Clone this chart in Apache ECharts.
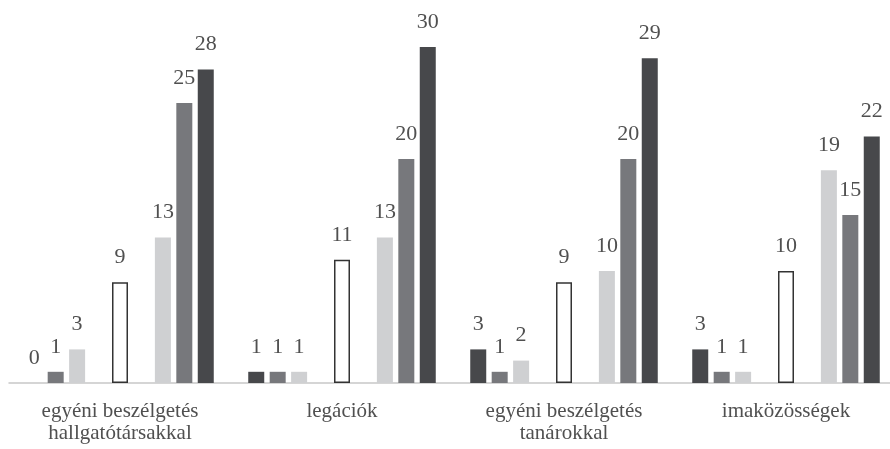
<!DOCTYPE html>
<html>
<head>
<meta charset="utf-8">
<script src="https://cdn.jsdelivr.net/npm/echarts@6/dist/echarts.min.js"></script>
<style>
html,body{margin:0;padding:0;background:#fff;}
#chart{width:890px;height:449px;}
</style>
</head>
<body>
<div id="chart"></div>
<script>
const categories = ['egyéni beszélgetés\nhallgatótársakkal', 'legációk', 'egyéni beszélgetés\ntanárokkal', 'imaközösségek'];

// left block of three bars
const leftDark  = [0, 1, 3, 3];
const leftMid   = [1, 1, 1, 1];
const leftLight = [3, 1, 2, 1];
// outlined middle bar
const middleOpen = [9, 11, 9, 10];
// right block of three bars
const rightLight = [13, 13, 10, 19];
const rightMid   = [25, 20, 20, 15];
const rightDark  = [28, 30, 29, 22];
// empty slots that separate the blocks
const spacer = ['-', '-', '-', '-'];

const DARK = '#47484b', MID = '#77787c', LIGHT = '#cfd0d2';
const FONT = 'Liberation Serif';

function bars(name, data, color, extra) {
  return Object.assign({
    name: name,
    type: 'bar',
    data: data,
    barWidth: 16,
    barGap: '34%',
    itemStyle: { color: color },
    label: {
      show: true,
      position: 'top',
      distance: 14,
      fontFamily: FONT,
      fontSize: 22,
      color: '#505050'
    }
  }, extra || {});
}

const chart = echarts.init(document.getElementById('chart'), null, { renderer: 'canvas' });
chart.setOption({
  animation: false,
  backgroundColor: '#fff',
  textStyle: { fontFamily: FONT },
  grid: { left: 9, top: 47, width: 888, bottom: 66, containLabel: false, outerBoundsMode: 'none' },
  xAxis: {
    type: 'category',
    data: categories,
    axisLine: { lineStyle: { color: '#c8c8c8', width: 1.5 } },
    axisTick: { show: false },
    axisLabel: {
      interval: 0,
      margin: 17,
      fontFamily: FONT,
      fontSize: 21,
      lineHeight: 22,
      color: '#505050'
    }
  },
  yAxis: {
    type: 'value',
    min: 0,
    max: 30,
    show: false,
    splitLine: { show: false }
  },
  series: [
    bars('bal sötét', leftDark, DARK),
    bars('bal közép', leftMid, MID),
    bars('bal világos', leftLight, LIGHT),
    bars('térköz 1', spacer, 'transparent', { label: { show: false } }),
    bars('középső', middleOpen, '#ffffff', {
      itemStyle: { color: '#ffffff', borderColor: '#333333', borderWidth: 1.5 }
    }),
    bars('térköz 2', spacer, 'transparent', { label: { show: false } }),
    bars('jobb világos', rightLight, LIGHT),
    bars('jobb közép', rightMid, MID),
    bars('jobb sötét', rightDark, DARK)
  ]
});
</script>
</body>
</html>
